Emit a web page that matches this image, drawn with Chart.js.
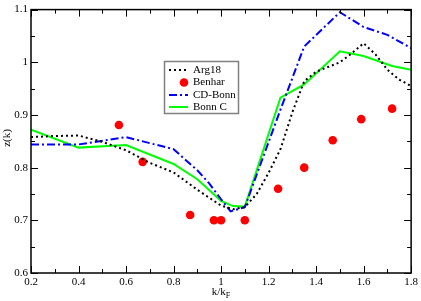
<!DOCTYPE html>
<html><head><meta charset="utf-8">
<script src="https://cdn.jsdelivr.net/npm/chart.js@4/dist/chart.umd.min.js"></script>
<style>html,body{margin:0;padding:0;background:#fff}canvas{display:block}</style>
</head><body>
<canvas id="c" width="421" height="301"></canvas>
<script>
// ---- data ----
const argX = [0.2,0.3,0.4,0.5,0.6,0.7,0.8,0.9,1.0,1.05,1.1,1.15,1.2,1.25,1.3,1.35,1.4,1.45,1.5,1.55,1.6,1.65,1.7,1.75,1.8];
const argY = [0.858,0.860,0.861,0.849,0.833,0.809,0.791,0.758,0.728,0.721,0.725,0.750,0.790,0.835,0.905,0.964,0.982,0.991,1.000,1.017,1.036,1.015,0.986,0.967,0.955];
const benharX = [0.57,0.67,0.87,0.97,1.0,1.1,1.24,1.35,1.47,1.59,1.72];
const benharY = [0.881,0.811,0.710,0.700,0.700,0.700,0.760,0.800,0.852,0.892,0.912];
const cdbX = [0.2,0.4,0.6,0.8,0.9,0.95,1.0,1.04,1.1,1.25,1.35,1.5,1.6,1.7,1.8];
const cdbY = [0.844,0.844,0.858,0.835,0.795,0.770,0.740,0.717,0.725,0.910,1.030,1.095,1.067,1.052,1.027];
const bonnX = [0.2,0.4,0.6,0.8,0.9,1.0,1.05,1.1,1.25,1.35,1.5,1.6,1.72,1.8];
const bonnY = [0.872,0.838,0.843,0.807,0.778,0.737,0.727,0.726,0.933,0.958,1.021,1.012,0.993,0.986];
const seriesNames = ["Arg18","Benhar","CD-Bonn","Bonn C"];
const xTicks = [0.2,0.4,0.6,0.8,1.0,1.2,1.4,1.6,1.8];
const yTicks = [0.6,0.7,0.8,0.9,1.0,1.1];
const xTitle = "k/k", xTitleSub = "F";
const yTitle = "z(k)";

const pts = (xs, ys) => xs.map((x, i) => ({x, y: ys[i]}));
const FONT = "'Liberation Serif','DejaVu Serif',serif";
const fmt = v => String(Number(v.toFixed(3)));

const framePlugin = {
  id: 'frame',
  afterDatasetsDraw(chart) {
    const {ctx, chartArea: a, scales: {x, y}} = chart;
    ctx.save();
    ctx.strokeStyle = '#000';
    ctx.lineWidth = 1;
    const minor = arr => arr.slice(1).map((v, i) => (v + arr[i]) / 2);
    const tick = (len, vals, isX) => {
      vals.forEach(v => {
        ctx.beginPath();
        if (isX) {
          const px = Math.round(x.getPixelForValue(v)) + 0.5;
          ctx.moveTo(px, a.bottom); ctx.lineTo(px, a.bottom - len);
          ctx.moveTo(px, a.top); ctx.lineTo(px, a.top + len);
        } else {
          const py = Math.round(y.getPixelForValue(v)) + 0.5;
          ctx.moveTo(a.left, py); ctx.lineTo(a.left + len, py);
          ctx.moveTo(a.right, py); ctx.lineTo(a.right - len, py);
        }
        ctx.stroke();
      });
    };
    tick(7, xTicks, true); tick(4, minor(xTicks), true);
    tick(7, yTicks, false); tick(4, minor(yTicks), false);
    ctx.lineWidth = 1.5;
    ctx.strokeRect(a.left, a.top, a.right - a.left, a.bottom - a.top);

    // legend
    const bx = 164.5, by = 61.5, bw = 74, bh = 52;
    ctx.fillStyle = '#fff';
    ctx.fillRect(bx, by, bw, bh);
    ctx.strokeStyle = '#808080';
    ctx.lineWidth = 1.5;
    ctx.strokeRect(bx, by, bw, bh);
    const rows = [70, 82.5, 95, 107];
    chart.data.datasets.forEach((ds, i) => {
      const ry = rows[i];
      ctx.save();
      if (ds.showLine === false) {
        ctx.fillStyle = ds.backgroundColor;
        ctx.beginPath(); ctx.arc(184, ry, ds.pointRadius, 0, Math.PI * 2); ctx.fill();
      } else {
        ctx.strokeStyle = ds.borderColor;
        ctx.lineWidth = ds.borderWidth;
        ctx.setLineDash(ds.borderDash || []);
        ctx.beginPath(); ctx.moveTo(169, ry); ctx.lineTo(188, ry); ctx.stroke();
      }
      ctx.restore();
      ctx.fillStyle = '#000';
      ctx.font = '11px ' + FONT;
      ctx.textBaseline = 'middle';
      ctx.textAlign = 'left';
      ctx.fillText(ds.label, 193, ry);
    });

    // axis titles
    ctx.fillStyle = '#000';
    ctx.font = '11px ' + FONT;
    ctx.textBaseline = 'alphabetic';
    const w1 = ctx.measureText(xTitle).width;
    ctx.font = '8px ' + FONT;
    const w2 = ctx.measureText(xTitleSub).width;
    const cx = (a.left + a.right) / 2;
    const sx = cx - (w1 + w2) / 2;
    ctx.font = '11px ' + FONT;
    ctx.textAlign = 'left';
    ctx.fillText(xTitle, sx, 295);
    ctx.font = '8px ' + FONT;
    ctx.fillText(xTitleSub, sx + w1, 298);
    ctx.save();
    ctx.translate(10, 138);
    ctx.rotate(-Math.PI / 2);
    ctx.font = '11px ' + FONT;
    ctx.textAlign = 'center';
    ctx.fillText(yTitle, 0, 0);
    ctx.restore();
    ctx.restore();
  }
};

new Chart(document.getElementById('c'), {
  type: 'line',
  data: {
    datasets: [
      {label: seriesNames[0], data: pts(argX, argY), borderColor: '#000', borderWidth: 2,
       borderDash: [2, 3], pointRadius: 0, fill: false, tension: 0},
      {label: seriesNames[1], data: pts(benharX, benharY), showLine: false, pointRadius: 4.3,
       pointHoverRadius: 4.3, backgroundColor: '#ff0000', borderColor: '#ff0000', borderWidth: 0},
      {label: seriesNames[2], data: pts(cdbX, cdbY), borderColor: '#0000ff', borderWidth: 2,
       borderDash: [8, 3, 2, 3], pointRadius: 0, fill: false, tension: 0},
      {label: seriesNames[3], data: pts(bonnX, bonnY), borderColor: '#00ff00', borderWidth: 2,
       pointRadius: 0, fill: false, tension: 0}
    ]
  },
  options: {
    responsive: false,
    animation: false,
    devicePixelRatio: 1,
    layout: {padding: {top: 5, right: 8, left: 0, bottom: 0}},
    plugins: {legend: {display: false}, tooltip: {enabled: false}},
    scales: {
      x: {
        type: 'linear', min: 0.2, max: 1.8,
        afterBuildTicks: s => { s.ticks = xTicks.map(v => ({value: v})); },
        afterFit: s => { s.height = 28; },
        grid: {display: false, drawTicks: false},
        border: {display: false},
        ticks: {color: '#000', padding: 3, maxRotation: 0, autoSkip: false,
                font: {family: FONT, size: 11}, callback: v => fmt(v)}
      },
      y: {
        type: 'linear', min: 0.6, max: 1.1,
        afterBuildTicks: s => { s.ticks = yTicks.map(v => ({value: v})); },
        afterFit: s => { s.width = 31; },
        grid: {display: false, drawTicks: false},
        border: {display: false},
        ticks: {color: '#000', padding: 3, autoSkip: false,
                font: {family: FONT, size: 11}, callback: v => fmt(v)}
      }
    }
  },
  plugins: [framePlugin]
});
</script>
</body></html>
